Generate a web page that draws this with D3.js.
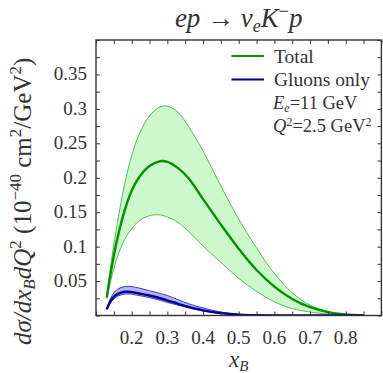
<!DOCTYPE html>
<html>
<head>
<meta charset="utf-8">
<script src="https://cdn.jsdelivr.net/npm/d3@7"></script>
<style>
  body { margin: 0; background: #fff; }
  svg text { font-family: 'Liberation Serif', 'Times New Roman', 'DejaVu Serif', serif; fill: #333; }
</style>
</head>
<body>
<svg id="chart"></svg>
<script>
// values
const xB = [0.13, 0.14, 0.15, 0.16, 0.18, 0.2, 0.22, 0.25, 0.28, 0.3, 0.33, 0.36, 0.4, 0.45, 0.5, 0.55, 0.6, 0.65, 0.7, 0.75, 0.8, 0.85];
const totalMid = [0.026, 0.058, 0.087, 0.112, 0.152, 0.181, 0.200, 0.217, 0.224, 0.223, 0.214, 0.199, 0.169, 0.132, 0.097, 0.066, 0.042, 0.024, 0.012, 0.005, 0.0015, 0];
const totalHi  = [0.028, 0.068, 0.103, 0.135, 0.190, 0.232, 0.262, 0.290, 0.303, 0.304, 0.295, 0.274, 0.239, 0.188, 0.140, 0.098, 0.061, 0.033, 0.015, 0.006, 0.0015, 0];
const totalLo  = [0.024, 0.048, 0.068, 0.085, 0.110, 0.126, 0.137, 0.145, 0.146, 0.143, 0.135, 0.122, 0.101, 0.077, 0.054, 0.035, 0.020, 0.010, 0.005, 0.002, 0.0005, 0];
const gluonMid = [0.009, 0.020, 0.027, 0.031, 0.0345, 0.034, 0.032, 0.029, 0.025, 0.022, 0.017, 0.0125, 0.0075, 0.0035, 0.0013, 0.0004, 0.0001, 0, 0, 0, 0, 0];
const gluonHi  = [0.010, 0.024, 0.033, 0.038, 0.042, 0.042, 0.040, 0.036, 0.032, 0.029, 0.023, 0.017, 0.011, 0.005, 0.002, 0.0006, 0.0002, 0, 0, 0, 0, 0];
const gluonLo  = [0.008, 0.018, 0.024, 0.028, 0.031, 0.031, 0.029, 0.026, 0.022, 0.019, 0.015, 0.011, 0.0065, 0.003, 0.001, 0.0003, 0.0001, 0, 0, 0, 0, 0];

const xTickLabels = [0.2, 0.3, 0.4, 0.5, 0.6, 0.7, 0.8];
const yTickLabels = [0.05, 0.1, 0.15, 0.2, 0.25, 0.3, 0.35];

const width = 383, height = 373;
const margin = { top: 40, right: 1.6, bottom: 57.5, left: 96 };
const w = width - margin.left - margin.right;
const h = height - margin.top - margin.bottom;
const serif = "'Liberation Serif', 'Times New Roman', 'DejaVu Serif', serif";

const svg = d3.select('#chart')
    .attr('width', width)
    .attr('height', height)
    .attr('font-family', serif);

const xScale = d3.scaleLinear().domain([0.1, 0.9]).range([0, w]);
const yScale = d3.scaleLinear().domain([0, 0.4]).range([h, 0]);

const chart = svg.append('g')
    .attr('transform', `translate(${margin.left},${margin.top})`);

svg.append('clipPath').attr('id', 'plotclip')
  .append('rect').attr('width', w).attr('height', h);

const rows = xB.map((x, i) => ({
  x: x,
  tm: totalMid[i], th: totalHi[i], tl: totalLo[i],
  gm: gluonMid[i], gh: gluonHi[i], gl: gluonLo[i]
}));

const curve = d3.curveCatmullRom.alpha(0.5);
const area = (lo, hi) => d3.area().curve(curve)
    .x(d => xScale(d.x)).y0(d => yScale(d[lo])).y1(d => yScale(d[hi]));
const line = key => d3.line().curve(curve)
    .x(d => xScale(d.x)).y(d => yScale(d[key]));

const plot = chart.append('g').attr('clip-path', 'url(#plotclip)');

// Total band
plot.append('path').attr('d', area('tl', 'th')(rows))
    .attr('fill', '#ccf8cc');
['th', 'tl'].forEach(k => {
  plot.append('path').attr('d', line(k)(rows))
      .attr('fill', 'none').attr('stroke', '#3fb83f').attr('stroke-width', 0.9);
});

// Gluons band
plot.append('path').attr('d', area('gl', 'gh')(rows))
    .attr('fill', '#b4b4f0');
['gh', 'gl'].forEach(k => {
  plot.append('path').attr('d', line(k)(rows))
      .attr('fill', 'none').attr('stroke', '#2b2bc0').attr('stroke-width', 0.9);
});

plot.append('path').attr('d', line('tm')(rows))
    .attr('fill', 'none').attr('stroke', '#009300').attr('stroke-width', 2.4);
plot.append('path').attr('d', line('gm')(rows))
    .attr('fill', 'none').attr('stroke', '#00009a').attr('stroke-width', 2.4);

// ticks, inward on all four sides
const tickLen = 4;
const xMinor = d3.range(0.1, 0.9001, 0.05);
const yMinor = d3.range(0, 0.4001, 0.025);

chart.append('g').attr('transform', `translate(0,${h})`)
    .call(d3.axisBottom(xScale).tickValues(xMinor).tickSize(-tickLen).tickFormat(''))
    .call(g => g.select('.domain').remove());
chart.append('g')
    .call(d3.axisTop(xScale).tickValues(xMinor).tickSize(-tickLen).tickFormat(''))
    .call(g => g.select('.domain').remove());
chart.append('g')
    .call(d3.axisLeft(yScale).tickValues(yMinor).tickSize(-tickLen).tickFormat(''))
    .call(g => g.select('.domain').remove());
chart.append('g').attr('transform', `translate(${w},0)`)
    .call(d3.axisRight(yScale).tickValues(yMinor).tickSize(-tickLen).tickFormat(''))
    .call(g => g.select('.domain').remove());
chart.selectAll('.tick line').attr('stroke', '#333').attr('stroke-width', 1);

// frame
chart.append('rect')
    .attr('width', w).attr('height', h)
    .attr('fill', 'none').attr('stroke', '#333').attr('stroke-width', 1.4);

// tick labels
chart.selectAll('.xlab').data(xTickLabels).join('text')
    .attr('class', 'xlab')
    .attr('x', d => xScale(d)).attr('y', h + 28.5)
    .attr('text-anchor', 'middle')
    .style('font-size', '19px')
    .text(d => d);

chart.selectAll('.ylab').data(yTickLabels).join('text')
    .attr('class', 'ylab')
    .attr('x', -9).attr('y', d => yScale(d) + 6)
    .attr('text-anchor', 'end')
    .style('font-size', '19px')
    .text(d => d);

// title
const title = svg.append('text')
    .attr('x', margin.left + w / 2).attr('y', 27)
    .attr('text-anchor', 'middle')
    .style('font-size', '27px');
title.append('tspan').style('font-style', 'italic').text('ep');
title.append('tspan').text(' \u2192 ');
title.append('tspan').style('font-style', 'italic').text('\u03bd');
title.append('tspan').style('font-style', 'italic').style('font-size', '18px').attr('dy', 5).text('e');
title.append('tspan').style('font-style', 'italic').attr('dy', -5).text('K');
title.append('tspan').style('font-size', '18px').attr('dy', -10).text('\u2212');
title.append('tspan').style('font-style', 'italic').attr('dy', 10).text('p');

// x axis label
const xl = svg.append('text')
    .attr('x', margin.left + w / 2).attr('y', 367)
    .attr('text-anchor', 'middle')
    .style('font-size', '23px').style('font-style', 'italic');
xl.append('tspan').text('x');
xl.append('tspan').style('font-size', '15px').attr('dy', 4).text('B');

// y axis label
const yl = svg.append('text')
    .attr('transform', 'translate(31,345) rotate(-90)')
    .attr('text-anchor', 'start')
    .style('font-size', '25px');
yl.append('tspan').style('font-style', 'italic').text('d\u03c3/dx');
yl.append('tspan').style('font-style', 'italic').style('font-size', '17px').attr('dy', 4).text('B');
yl.append('tspan').style('font-style', 'italic').attr('dy', -4).text('dQ');
yl.append('tspan').style('font-size', '17px').attr('dy', -10).text('2');
yl.append('tspan').attr('dy', 10).text(' (10');
yl.append('tspan').style('font-size', '17px').attr('dy', -10).text('\u221240');
yl.append('tspan').attr('dy', 10).text(' cm');
yl.append('tspan').style('font-size', '17px').attr('dy', -10).text('2');
yl.append('tspan').attr('dy', 10).text('/GeV');
yl.append('tspan').style('font-size', '17px').attr('dy', -10).text('2');
yl.append('tspan').attr('dy', 10).text(')');

// legend
const legend = [
  { name: 'Total', color: '#009900', y: 56 },
  { name: 'Gluons only', color: '#000090', y: 79.5 }
];
legend.forEach(d => {
  svg.append('line')
      .attr('x1', 231.5).attr('x2', 264).attr('y1', d.y).attr('y2', d.y)
      .attr('stroke', d.color).attr('stroke-width', 2);
  svg.append('text')
      .attr('x', 274).attr('y', d.y + 6.5)
      .style('font-size', '19.5px')
      .text(d.name);
});

// kinematics note
const n1 = svg.append('text').attr('x', 273).attr('y', 109).style('font-size', '18.5px');
n1.append('tspan').style('font-style', 'italic').text('E');
n1.append('tspan').style('font-style', 'italic').style('font-size', '12px').attr('dy', 3).text('e');
n1.append('tspan').attr('dy', -3).text('=11 GeV');

const n2 = svg.append('text').attr('x', 273).attr('y', 132).style('font-size', '18.5px');
n2.append('tspan').style('font-style', 'italic').text('Q');
n2.append('tspan').style('font-size', '12px').attr('dy', -6).text('2');
n2.append('tspan').attr('dy', 6).text('=2.5 GeV');
n2.append('tspan').style('font-size', '12px').attr('dy', -6).text('2');
</script>
</body>
</html>
